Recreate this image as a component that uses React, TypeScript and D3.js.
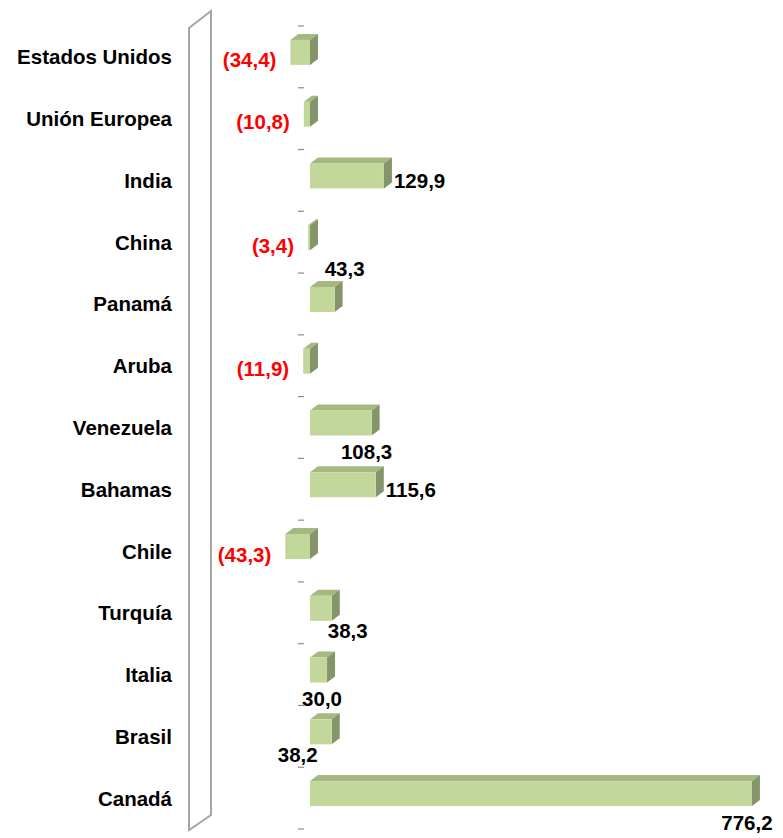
import * as d3 from 'd3';

const categories = [
  'Estados Unidos', 'Unión Europea', 'India', 'China', 'Panamá', 'Aruba', 'Venezuela',
  'Bahamas', 'Chile', 'Turquía', 'Italia', 'Brasil', 'Canadá',
];
const values = [-34.4, -10.8, 129.9, -3.4, 43.3, -11.9, 108.3, 115.6, -43.3, 38.3, 30.0, 38.2, 776.2];
// where Excel put each data label
const labelSpots = ['left', 'left', 'right', 'left', 'above', 'left', 'below', 'right', 'left', 'belowRight', 'below', 'belowLeft', 'below'];

const W = 783;
const H = 838;
const FONT = '"Liberation Sans", Arial, sans-serif';
const DX = 8; // 3d depth
const DY = -6;

const fmt = (v: number) => {
  const s = Math.abs(v).toFixed(1).replace('.', ',');
  return v < 0 ? `(${s})` : s;
};

export default function App() {
  const x = d3.scaleLinear().domain([-50, 800]).range([281.5, 765.5]);
  const y = d3.scaleBand().domain(categories).range([26, 829]);
  const x0 = x(0);
  const ticks = d3.range(categories.length + 1).map((i) => 26 + i * y.step());

  return (
    <svg width={W} height={H} style={{ position: 'absolute', left: 0, top: 0, background: '#fff' }}>
      {/* side wall */}
      <path d="M189,28 L211,11 L211,815 L189,830 Z" fill="none" stroke="#a6a6a6" strokeWidth={2} />

      {ticks.map((t, i) => (
        <line key={i} x1={298} x2={304} y1={t} y2={t} stroke="#8c8c8c" strokeWidth={1.2} />
      ))}

      {categories.map((c) => (
        <text key={c} x={172} y={y(c)! + y.bandwidth() / 2} textAnchor="end" dominantBaseline="central"
          fontFamily={FONT} fontWeight="bold" fontSize={20.5} fill="#000">{c}</text>
      ))}

      {values.map((v, i) => {
        const cy = y(categories[i])! + y.bandwidth() / 2;
        const left = Math.min(x(v), x0);
        const right = Math.max(x(v), x0);
        const yt = cy - 17;
        const yb = cy + 8;
        const top = `M${left},${yt} L${left + DX},${yt + DY} L${right + DX},${yt + DY} L${right},${yt} Z`;
        const side = `M${right},${yt} L${right + DX},${yt + DY} L${right + DX},${yb + DY} L${right},${yb} Z`;
        return (
          <g key={i}>
            <path d={top} fill="#a6b882" />
            <path d={side} fill="#84956a" />
            <rect x={left} y={yt} width={right - left} height={yb - yt} fill="#c4d79b" />
          </g>
        );
      })}

      {values.map((v, i) => {
        const cy = y(categories[i])! + y.bandwidth() / 2;
        const spot = labelSpots[i];
        let lx = x(v);
        let ly = cy;
        let anchor = 'middle';
        if (spot === 'left') { lx = x(v) - 14; ly = cy + 3; anchor = 'end'; }
        if (spot === 'right') { lx = x(v) + 10; anchor = 'start'; }
        if (spot === 'above') { lx = x(v) + 10; ly = cy - 35; }
        if (spot === 'below') { lx = x(v) - 5; ly = cy + 24; }
        if (spot === 'belowRight') { lx = x(v) - 4; ly = cy + 18; anchor = 'start'; }
        if (spot === 'belowLeft') { lx = x(v) - 14; ly = cy + 18; anchor = 'end'; }
        return (
          <text key={i} x={lx} y={ly} textAnchor={anchor} dominantBaseline="central"
            fontFamily={FONT} fontWeight="bold" fontSize={20.5} fill={v < 0 ? '#ff0000' : '#000'}>
            {fmt(v)}
          </text>
        );
      })}
    </svg>
  );
}
